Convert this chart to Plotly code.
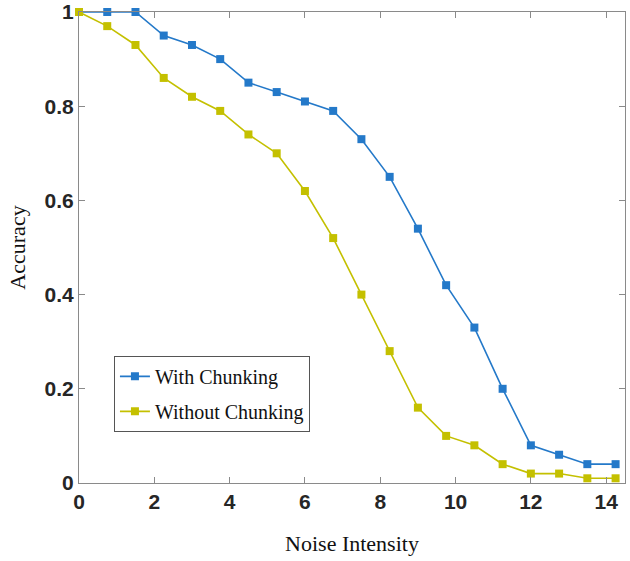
import plotly.graph_objects as go

# noise levels (x) and accuracy for both runs
noise = [0, 0.75, 1.5, 2.25, 3, 3.75, 4.5, 5.25, 6, 6.75, 7.5, 8.25, 9, 9.75,
         10.5, 11.25, 12, 12.75, 13.5, 14.25]
with_chunking = [1, 1, 1, 0.95, 0.93, 0.90, 0.85, 0.83, 0.81, 0.79, 0.73, 0.65,
                 0.54, 0.42, 0.33, 0.20, 0.08, 0.06, 0.04, 0.04]
without_chunking = [1, 0.97, 0.93, 0.86, 0.82, 0.79, 0.74, 0.70, 0.62, 0.52, 0.40,
                    0.28, 0.16, 0.10, 0.08, 0.04, 0.02, 0.02, 0.01, 0.01]
x_ticks = [0, 2, 4, 6, 8, 10, 12, 14]
y_ticks = [0, 0.2, 0.4, 0.6, 0.8, 1]
y_tick_text = ["0", "0.2", "0.4", "0.6", "0.8", "1"]

fig = go.Figure()

fig.add_trace(go.Scatter(
    x=noise, y=with_chunking, mode='lines+markers', name='With Chunking',
    legendgroup='a', cliponaxis=False,
    line=dict(color='#2479c9', width=1.6),
    marker=dict(symbol='square', size=8, color='#2479c9')
))
fig.add_trace(go.Scatter(
    x=noise, y=without_chunking, mode='lines+markers', name='Without Chunking',
    legendgroup='b', cliponaxis=False,
    line=dict(color='#c4c000', width=1.6),
    marker=dict(symbol='square', size=8, color='#c4c000')
))

axis_common = dict(
    showline=True, linecolor='#8a8a8a', linewidth=1, mirror='ticks',
    ticks='inside', ticklen=6, tickcolor='#8a8a8a', showgrid=False, zeroline=False,
    automargin=False,
    tickfont=dict(family='Liberation Sans, Arial', size=21, color='#262626', weight='bold'),
    title_font=dict(family='Liberation Serif, Times New Roman', size=22, color='#111'),
)

fig.update_layout(
    width=630, height=561,
    margin=dict(l=79, r=5, t=12, b=78),
    plot_bgcolor='white', paper_bgcolor='white',
    xaxis=dict(range=[0, 14.5], tickvals=x_ticks, title=dict(text='Noise Intensity', standoff=23),
               **axis_common),
    yaxis=dict(range=[0, 1], tickvals=y_ticks, ticktext=y_tick_text,
               title=dict(text='Accuracy', standoff=12), **axis_common),
    legend=dict(
        x=0.064, y=0.27, xanchor='left', yanchor='top',
        bordercolor='#555', borderwidth=1, bgcolor='white',
        font=dict(family='Liberation Serif, Times New Roman', size=20, color='#111'),
        tracegroupgap=6, itemwidth=30
    ),
)

# page body has an 8px default margin, drop it so the figure sits at 0,0
fig.write_html("out.html", config={'displayModeBar': False},
               post_script="document.body.style.margin='0';")
